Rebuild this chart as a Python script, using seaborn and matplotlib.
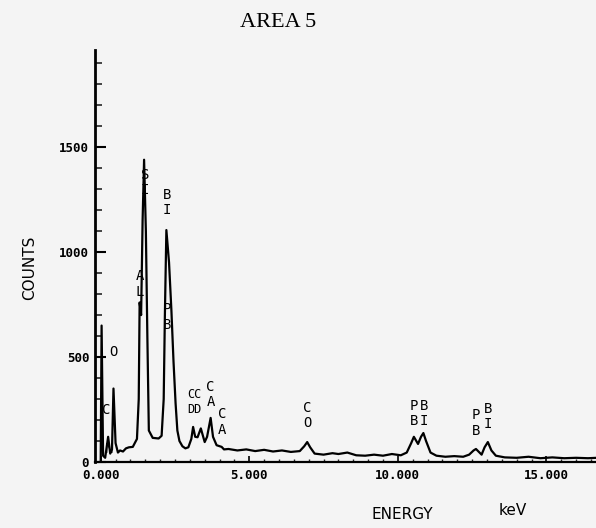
import numpy as np
import pandas as pd
import seaborn as sns
import matplotlib.pyplot as plt
from matplotlib.ticker import MultipleLocator

# spectrum (keV, counts)
energy = [0.00, 0.03, 0.08, 0.15, 0.25, 0.32, 0.38, 0.43, 0.50, 0.58,
          0.65, 0.75, 0.85, 0.95, 1.08, 1.22, 1.28, 1.31, 1.36, 1.41,
          1.46, 1.52, 1.57, 1.62, 1.75, 1.95, 2.05, 2.12, 2.16, 2.21,
          2.30, 2.38, 2.45, 2.52, 2.58, 2.65, 2.75, 2.85, 2.95, 3.05,
          3.11, 3.18, 3.26, 3.37, 3.50, 3.58, 3.70, 3.78, 3.90, 4.07,
          4.15, 4.30, 4.60, 4.90, 5.20, 5.50, 5.80, 6.10, 6.40, 6.70,
          6.85, 6.95, 7.05, 7.20, 7.50, 7.80, 8.00, 8.30, 8.60, 8.90,
          9.20, 9.50, 9.80, 10.10, 10.30, 10.45, 10.54, 10.68, 10.78, 10.86,
          10.95, 11.10, 11.30, 11.60, 11.90, 12.20, 12.40, 12.55, 12.63, 12.82,
          12.92, 13.03, 13.15, 13.30, 13.60, 14.00, 14.40, 14.80, 15.20, 15.60,
          16.00, 16.40, 16.70]
counts = [0, 650, 30, 20, 120, 40, 60, 350, 90, 45,
          55, 50, 65, 70, 72, 110, 300, 760, 700, 1150,
          1440, 1100, 600, 150, 115, 112, 125, 300, 700, 1105,
          950, 720, 480, 280, 150, 100, 75, 65, 70, 110,
          167, 120, 118, 160, 95, 120, 210, 120, 80, 72,
          60, 62, 55, 60, 52, 58, 50, 55, 48, 52,
          75, 95, 70, 40, 35, 42, 38, 45, 32, 30,
          35, 30, 38, 32, 45, 90, 120, 86, 120, 138,
          100, 45, 30, 25, 28, 25, 35, 55, 62, 35,
          70, 95, 55, 30, 22, 20, 25, 18, 22, 18,
          20, 18, 20]

# peak labels (stacked letters), position in keV / counts
peak_text = ["N", "C", "O", "A\nL", "S\nI", "B\nI", "P\nB", "CC\nDD",
             "C\nA", "C\nA", "C\nO", "P\nB", "B\nI", "P\nB", "B\nI"]
peak_x = [0.27, 0.17, 0.42, 1.31, 1.50, 2.24, 2.24, 3.14,
          3.70, 4.09, 6.95, 10.54, 10.88, 12.63, 13.03]
peak_y = [60, 248, 524, 848, 1331, 1236, 690, 286,
          321, 190, 221, 231, 231, 186, 217]
peak_size = [10, 10, 10, 10, 10, 10, 10, 8.5,
             10, 10, 10, 10, 10, 10, 10]

x_ticks = [0, 5, 10, 15]
x_ticklabels = ["0.000", "5.000", "10.000", "15.000"]
y_ticks = [0, 500, 1000, 1500]

sns.set_theme(style="ticks")
plt.rcParams["font.family"] = ["DejaVu Sans Mono", "DejaVu Sans"]

bg = "#f4f4f4"
fig = plt.figure(figsize=(5.96, 5.28), dpi=100, facecolor=bg)
ax = fig.add_axes([0.159, 0.125, 0.841, 0.78])
ax.set_facecolor(bg)

df = pd.DataFrame({"energy": energy, "counts": counts})
sns.lineplot(data=df, x="energy", y="counts", ax=ax, color="black",
             linewidth=1.6, estimator=None, sort=False)

for t, xx, yy, fs in zip(peak_text, peak_x, peak_y, peak_size):
    ax.text(xx, yy, t, ha="center", va="center", fontsize=fs,
            linespacing=1.15, color="black")

ax.set_xlim(-0.2, 16.67)
ax.set_ylim(0, 1962)
ax.set_xticks(x_ticks)
ax.set_xticklabels(x_ticklabels)
ax.set_yticks(y_ticks)
ax.xaxis.set_minor_locator(MultipleLocator(0.5))
ax.yaxis.set_minor_locator(MultipleLocator(100))
ax.tick_params(axis="y", which="major", direction="in", length=8, width=1.5,
               labelsize=9, pad=4, colors="black")
ax.tick_params(axis="y", which="minor", direction="in", length=5, width=1.2)
ax.tick_params(axis="x", which="major", direction="in", length=4, width=1.2,
               labelsize=9, pad=5, colors="black")
ax.tick_params(axis="x", which="minor", direction="in", length=2, width=1)
for lab in ax.get_xticklabels() + ax.get_yticklabels():
    lab.set_fontweight("bold")

sns.despine(ax=ax, top=True, right=True)
ax.spines["left"].set_linewidth(2)
ax.spines["bottom"].set_linewidth(1.6)
ax.spines["left"].set_color("black")
ax.spines["bottom"].set_color("black")
ax.set_xlabel("")
ax.set_ylabel("")

fig.text(0.466, 0.958, "AREA 5", ha="center", va="center", fontsize=16,
         family="Liberation Serif", color="black")
fig.text(0.05, 0.492, "COUNTS", ha="center", va="center", rotation=90,
         fontsize=11, family="DejaVu Sans", color="black")
fig.text(0.675, 0.025, "ENERGY", ha="center", va="center", fontsize=11,
         family="DejaVu Sans", color="black")
fig.text(0.861, 0.034, "keV", ha="center", va="center", fontsize=11,
         family="DejaVu Sans", color="black")

fig.savefig("out.png", dpi=100, facecolor=bg)
